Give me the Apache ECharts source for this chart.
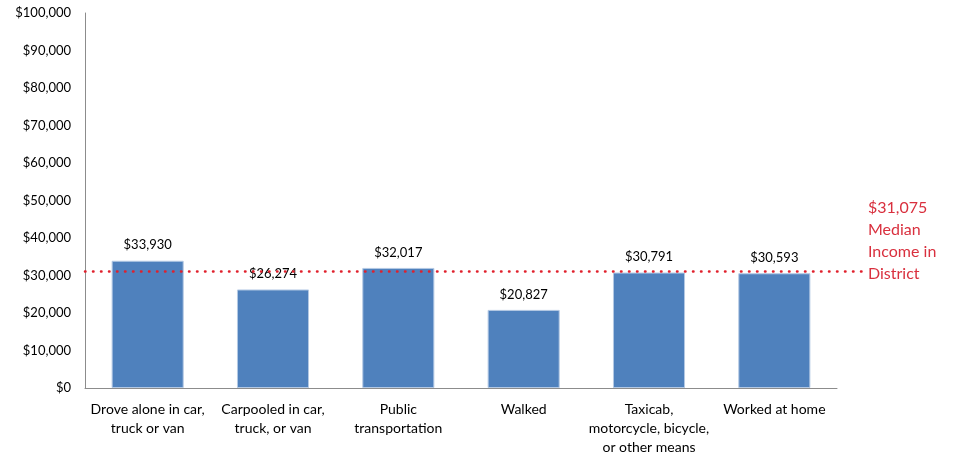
<!DOCTYPE html>
<html><head><meta charset="utf-8">
<script src="https://cdn.jsdelivr.net/npm/echarts@6/dist/echarts.min.js"></script>
<style>html,body{margin:0;padding:0;background:#fff;overflow:hidden}#c{width:959px;height:453px}</style>
</head><body><div id="c"></div>
<script>
const categories = ["Drove alone in car,\ntruck or van", "Carpooled in car,\ntruck, or van", "Public\ntransportation", "Walked", "Taxicab,\nmotorcycle, bicycle,\nor other means", "Worked at home"];
const incomes = [33930, 26274, 32017, 20827, 30791, 30593];
const medianIncome = 31075;
const medianLabel = "Median\nIncome in\nDistrict";
const yTicks = {min: 0, max: 100000, interval: 10000};

const fmt = v => '$' + Math.round(v).toLocaleString('en-US');
const FONT = 'Lato';
const el = document.getElementById('c');
const chart = echarts.init(el);
chart.setOption({
  animation: false,
  textStyle: {fontFamily: FONT},
  grid: [
    {left: 85, right: 122, top: 13, bottom: 65, containLabel: false, outerBoundsMode: 'none'},
    {left: 85, right: 97, top: 13, bottom: 65, containLabel: false, outerBoundsMode: 'none'}
  ],
  xAxis: [
    {type: 'category', data: categories, gridIndex: 0,
     axisLine: {lineStyle: {color: '#8c8c8c', width: 1}}, axisTick: {show: false},
     axisLabel: {color: '#000', fontSize: 14, lineHeight: 19, margin: 12, interval: 0, fontFamily: FONT}},
    {type: 'value', gridIndex: 1, min: 0, max: 1, show: false}
  ],
  yAxis: [
    {type: 'value', gridIndex: 0, min: yTicks.min, max: yTicks.max, interval: yTicks.interval,
     axisLine: {show: true, lineStyle: {color: '#8c8c8c', width: 1}}, axisTick: {show: false},
     splitLine: {show: false},
     axisLabel: {color: '#000', fontSize: 13, margin: 14, formatter: fmt, fontFamily: FONT}},
    {type: 'value', gridIndex: 1, min: yTicks.min, max: yTicks.max, show: false}
  ],
  series: [
    {type: 'bar', xAxisIndex: 0, yAxisIndex: 0, data: incomes, barCategoryGap: '42.5%',
     itemStyle: {color: '#4F81BD', borderColor: '#b4c9e4', borderWidth: 1},
     label: {show: true, position: 'top', distance: 9, color: '#000', fontSize: 13, fontFamily: FONT, formatter: p => fmt(p.value)}},
    {type: 'line', xAxisIndex: 1, yAxisIndex: 1, data: [[0, medianIncome], [1, medianIncome]],
     symbol: 'none', silent: true, z: 5,
     lineStyle: {color: '#e0202c', width: 2.5, type: [0.5, 7.5], cap: 'round'},
     endLabel: {show: true, formatter: () => fmt(medianIncome) + '\n' + medianLabel,
       color: '#d9303e', fontSize: 16, lineHeight: 22, fontFamily: FONT, distance: 6, offset: [0, -31], align: 'left'}}
  ]
});
</script></body></html>
